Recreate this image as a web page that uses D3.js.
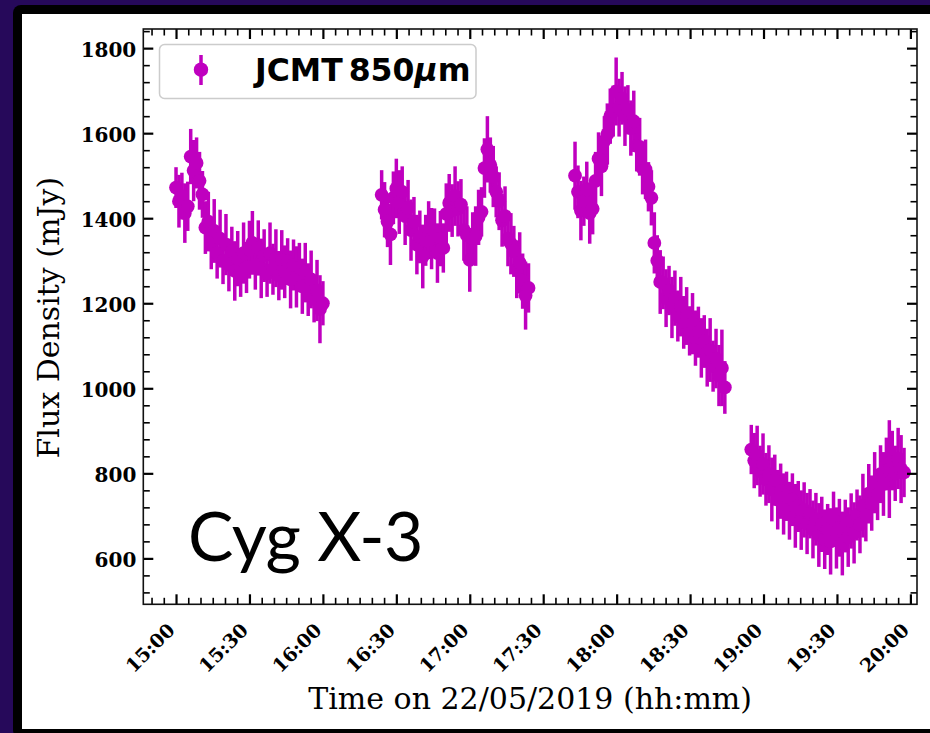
<!DOCTYPE html>
<html><head><meta charset="utf-8">
<script src="https://cdn.jsdelivr.net/npm/d3@7"></script>
<style>body{margin:0;background:#26095a;overflow:hidden}</style>
</head><body><svg id="c" width="930" height="733"></svg>
<script>
// ---- data ----
const segStarts = ["15:00", "16:24", "17:43", "18:55"];   // start of each scan block
const cadenceSec = 72;                                      // sampling interval (seconds)

const seg1Flux = [1472,1440,1452,1412,1428,1545,1512,1530,1488,1456,1378,1392,1338,1370,1318,1352,1300,1338,1290,1322,1276,1305,1270,1318,1284,1326,1342,1290,1330,1282,1312,1270,1318,1280,1306,1265,1302,1274,1298,1256,1290,1262,1284,1240,1272,1232,1256,1210,1230,1186,1200];
const seg1Err  = [48,62,55,70,58,65,72,60,68,55,62,70,58,75,60,68,55,72,62,58,70,65,55,72,60,68,75,58,65,70,62,55,72,60,68,58,70,62,55,68,60,72,58,65,70,62,68,55,72,80,52];

const seg2Flux = [1455,1420,1392,1362,1448,1470,1438,1462,1405,1425,1372,1392,1338,1356,1310,1348,1372,1352,1368,1318,1352,1330,1410,1436,1418,1452,1422,1432,1372,1360,1302,1352,1358,1402,1415,1518,1562,1525,1498,1462,1440,1395,1405,1352,1340,1322,1280,1295,1252,1218,1236];
const seg2Err  = [58,65,60,72,62,70,75,60,68,65,72,58,70,62,75,60,68,72,55,70,65,58,72,68,62,70,65,60,72,68,75,62,70,65,58,70,78,65,72,60,68,62,70,65,72,60,68,72,65,80,58];

const seg3Flux = [1500,1462,1418,1440,1468,1412,1422,1488,1540,1522,1582,1598,1640,1652,1698,1660,1682,1640,1655,1612,1628,1570,1568,1518,1515,1474,1448,1342,1300,1250,1248,1212,1230,1190,1212,1170,1192,1155,1170,1135,1152,1118,1132,1095,1110,1072,1090,1052,1070,1030,1048,1002];
const seg3Err  = [80,62,70,58,65,72,60,68,62,70,58,72,65,60,80,68,62,70,58,65,72,60,68,62,70,58,65,72,60,75,62,68,58,72,65,60,70,62,68,58,72,65,60,70,62,68,75,60,70,72,90,62];

const seg4Flux = [856,830,842,805,822,786,798,762,784,738,758,728,746,712,738,700,722,690,714,682,705,668,692,655,680,645,668,640,692,648,672,635,676,650,688,660,702,680,724,702,752,730,778,750,798,775,822,810,830,800,835,810,802];
const seg4Err  = [58,65,70,60,72,62,68,75,60,70,65,72,58,68,62,75,60,70,65,72,58,68,62,75,65,70,60,78,65,72,68,75,62,70,65,72,60,68,75,62,70,65,72,60,68,75,62,115,70,65,72,80,58];

const xTickLabels = ["15:00","15:30","16:00","16:30","17:00","17:30","18:00","18:30","19:00","19:30","20:00"];
const yTickValues = [600, 800, 1000, 1200, 1400, 1600, 1800];
const legendLabel = "JCMT";
const sourceName = "Cyg X-3";

// ---- build points ----
const day = [2019, 4, 22];
const hm = s => { const [h, m] = s.split(":").map(Number); return new Date(day[0], day[1], day[2], h, m, 0); };
const segs = [[seg1Flux, seg1Err], [seg2Flux, seg2Err], [seg3Flux, seg3Err], [seg4Flux, seg4Err]];
const points = [];
segs.forEach(([f, e], k) => {
  const t0 = hm(segStarts[k]).getTime();
  f.forEach((v, i) => points.push({ t: new Date(t0 + i * cadenceSec * 1000), v, e: e[i] }));
});

// ---- layout ----
const svg = d3.select("#c");
const W = 930, H = 733;
const L = 143.3, R = 917, T = 29, B = 604.3;
const col = "#bf00bf";

svg.append("rect").attr("width", W).attr("height", H).attr("fill", "#26095a");
svg.append("rect").attr("x", 13).attr("y", 5).attr("width", W).attr("height", H).attr("rx", 8).attr("fill", "#000");
svg.append("rect").attr("x", 22).attr("y", 14).attr("width", W).attr("height", 729 - 14).attr("fill", "#fff");

const x = d3.scaleTime()
  .domain([new Date(2019, 4, 22, 14, 46, 38), new Date(2019, 4, 22, 20, 2, 42)])
  .range([L, R]);
const y = d3.scaleLinear().domain([492, 1845]).range([B, T]);

// ---- data marks ----
const g = svg.append("g");
g.selectAll("line.eb").data(points).join("line").attr("class", "eb")
  .attr("x1", d => x(d.t)).attr("x2", d => x(d.t))
  .attr("y1", d => y(d.v - d.e)).attr("y2", d => y(d.v + d.e))
  .attr("stroke", col).attr("stroke-width", 3.5);
g.selectAll("circle").data(points).join("circle")
  .attr("cx", d => x(d.t)).attr("cy", d => y(d.v)).attr("r", 6.9).attr("fill", col);

// ---- axes ----
const xMajor = xTickLabels.map(hm);
const xMinor = d3.timeMinute.every(5).range(hm("14:50"), new Date(hm("20:00").getTime() + 1000)).filter(d => d.getMinutes() % 30 !== 0);
const yMinor = d3.range(520, 1841, 40).filter(v => v % 200 !== 0);

function axisGroup(axis, tx, ty, w) {
  const a = svg.append("g").attr("transform", `translate(${tx},${ty})`).call(axis);
  a.select(".domain").remove();
  a.selectAll("text").remove();
  a.selectAll("line").attr("stroke", "#000").attr("stroke-width", w);
  return a;
}
axisGroup(d3.axisBottom(x).tickValues(xMajor).tickSize(-10).tickSizeOuter(0), 0, B, 2.2);
axisGroup(d3.axisBottom(x).tickValues(xMinor).tickSize(-6.5).tickSizeOuter(0), 0, B, 1.6);
axisGroup(d3.axisTop(x).tickValues(xMajor).tickSize(-10).tickSizeOuter(0), 0, T, 2.2);
axisGroup(d3.axisTop(x).tickValues(xMinor).tickSize(-6.5).tickSizeOuter(0), 0, T, 1.6);
axisGroup(d3.axisLeft(y).tickValues(yTickValues).tickSize(-10).tickSizeOuter(0), L, 0, 2.2);
axisGroup(d3.axisLeft(y).tickValues(yMinor).tickSize(-6.5).tickSizeOuter(0), L, 0, 1.6);
axisGroup(d3.axisRight(y).tickValues(yTickValues).tickSize(-10).tickSizeOuter(0), R, 0, 2.2);
axisGroup(d3.axisRight(y).tickValues(yMinor).tickSize(-6.5).tickSizeOuter(0), R, 0, 1.6);

svg.append("rect").attr("x", L).attr("y", T).attr("width", R - L).attr("height", B - T)
  .attr("fill", "none").attr("stroke", "#111").attr("stroke-width", 1.6);

// tick labels
const serif = "'DejaVu Serif', serif";
svg.append("g").selectAll("text").data(yTickValues).join("text")
  .attr("x", L - 7).attr("y", d => y(d) + 9).attr("text-anchor", "end")
  .attr("font-family", serif).attr("font-weight", "bold").attr("font-size", 20)
  .text(d => d);
svg.append("g").selectAll("text").data(xMajor).join("text")
  .attr("transform", d => `translate(${x(d)},${B + 27}) rotate(-45)`)
  .attr("text-anchor", "end")
  .attr("font-family", serif).attr("font-weight", "bold").attr("font-size", 19)
  .text((d, i) => xTickLabels[i]);

// axis titles
svg.append("text").attr("x", (L + R) / 2).attr("y", 708.5).attr("text-anchor", "middle")
  .attr("font-family", serif).attr("font-size", 30).text("Time on 22/05/2019 (hh:mm)");
svg.append("text").attr("transform", `translate(59,${(T + B) / 2 + 1}) rotate(-90)`).attr("text-anchor", "middle")
  .attr("font-family", serif).attr("font-size", 30).text("Flux Density (mJy)");

// legend
const lg = svg.append("g");
lg.append("rect").attr("x", 159.5).attr("y", 44.5).attr("width", 316.5).attr("height", 54).attr("rx", 5)
  .attr("fill", "#fff").attr("fill-opacity", 0.8).attr("stroke", "#cccccc").attr("stroke-width", 1.5);
lg.append("line").attr("x1", 201).attr("x2", 201).attr("y1", 55).attr("y2", 85).attr("stroke", col).attr("stroke-width", 3.5);
lg.append("circle").attr("cx", 201).attr("cy", 69.7).attr("r", 7.2).attr("fill", col);
const lt = lg.append("text").attr("x", 255).attr("y", 81).attr("font-family", "'DejaVu Sans', sans-serif")
  .attr("font-weight", "bold").attr("font-size", 31.5);
lt.append("tspan").text(legendLabel);
lt.append("tspan").attr("dx", 6).text("850");
lt.append("tspan").attr("font-style", "italic").text("μ");
lt.append("tspan").text("m");

// source name
svg.append("text").attr("x", 188).attr("y", 561).attr("font-family", "Lato, sans-serif")
  .attr("font-size", 68).attr("letter-spacing", -0.5).attr("fill", "#000").text(sourceName);
</script></body></html>
